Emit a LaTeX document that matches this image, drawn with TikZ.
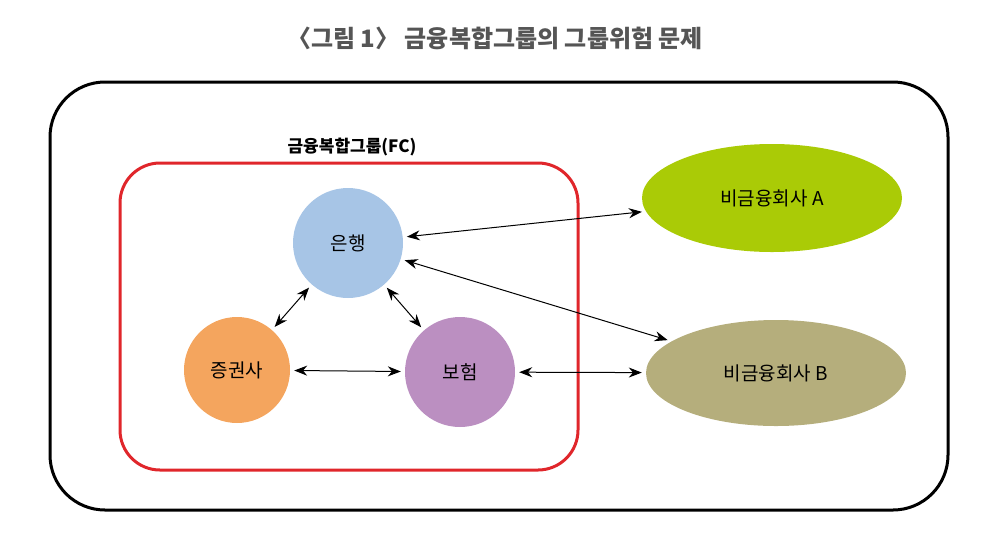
\documentclass[tikz,border=0pt]{standalone}
\usepackage{fontspec}
\setmainfont{Noto Sans CJK KR}
\usetikzlibrary{shapes.geometric,arrows.meta}
\definecolor{cbank}{HTML}{A7C5E6}
\definecolor{csec}{HTML}{F4A55E}
\definecolor{cins}{HTML}{BB8FC1}
\definecolor{cA}{HTML}{AACB06}
\definecolor{cB}{HTML}{B5AE7C}
\definecolor{ctitle}{HTML}{555555}
\definecolor{cred}{HTML}{E0262B}
\begin{document}
\begin{tikzpicture}[x=1pt,y=-1pt,
  circ/.style={circle,draw=none,minimum size=110pt,inner sep=0pt,font=\fontsize{19}{20}\selectfont},
  ell/.style={ellipse,draw=none,minimum width=260pt,minimum height=108pt,font=\fontsize{19}{20}\selectfont},
  arr/.style={{Stealth[length=13pt,width=10pt]}-{Stealth[length=13pt,width=10pt]},line width=1pt,shorten <=4pt,shorten >=4pt}]
\useasboundingbox (0,0) rectangle (985,542);
\node[font=\bfseries\fontsize{24}{26}\selectfont,text=ctitle] (title) at (495,38) {〈그림 1〉 금융복합그룹의 그룹위험 문제};
\draw[line width=3pt,rounded corners=55pt] (50,82) rectangle (948,510);
\draw[cred,line width=3pt,rounded corners=40pt] (120,163) rectangle (578,470);
\node[font=\bfseries\fontsize{17}{18}\selectfont] (fc) at (352,147) {금융복합그룹(FC)};
\node[circ,fill=cbank] (bank) at (348,243) {은행};
\node[circ,fill=csec,minimum size=106pt] (sec) at (237,370) {증권사};
\node[circ,fill=cins] (ins) at (460,372) {보험};
\node[ell,fill=cA] (A) at (772,198) {비금융회사 A};
\node[ell,fill=cB,minimum height=106pt] (B) at (776,373) {비금융회사 B};
\draw[arr] (bank) -- (A);
\draw[arr] (bank) -- (B);
\draw[arr] (bank) -- (sec);
\draw[arr] (bank) -- (ins);
\draw[arr] (sec) -- (ins);
\draw[arr] (ins) -- (B);
\end{tikzpicture}
\end{document}
